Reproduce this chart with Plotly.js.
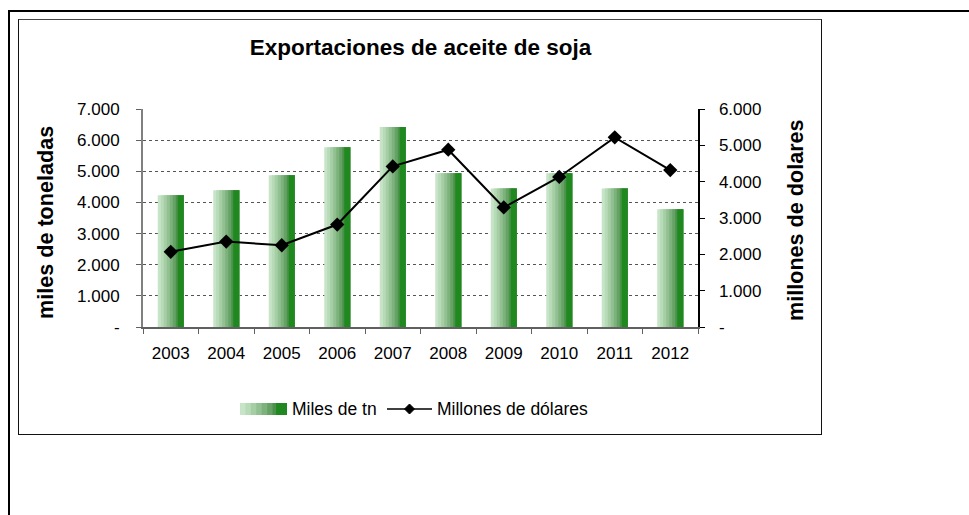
<!DOCTYPE html>
<html>
<head>
<meta charset="utf-8">
<script src="https://cdn.plot.ly/plotly-3.0.1.min.js"></script>
<style>
  html, body { margin:0; padding:0; background:#fff; width:969px; height:515px; overflow:hidden; }
  #outer { position:absolute; left:8px; top:10px; width:1000px; height:600px; border-left:2px solid #000; border-top:2px solid #000; }
  #inner { position:absolute; left:18px; top:19px; width:802px; height:414px; border:1px solid #111; border-top-color:#444; }
  #chart { position:absolute; left:0; top:0; width:969px; height:515px; }
</style>
</head>
<body>
<div id="outer"></div>
<div id="inner"></div>
<div id="chart"></div>
<script>
// ---- data ----
const years = ['2003','2004','2005','2006','2007','2008','2009','2010','2011','2012'];
const milesTn = [4230, 4390, 4870, 5770, 6420, 4940, 4450, 4940, 4450, 3780];
const millonesUSD = [2070, 2350, 2250, 2820, 4420, 4880, 3290, 4130, 5220, 4320];
const leftTickVals = [0, 1000, 2000, 3000, 4000, 5000, 6000, 7000];
const leftTickText = ['-', '1.000', '2.000', '3.000', '4.000', '5.000', '6.000', '7.000'];
const rightTickVals = [0, 1000, 2000, 3000, 4000, 5000, 6000];
const rightTickText = ['-', '1.000', '2.000', '3.000', '4.000', '5.000', '6.000'];
const seriesNames = ['Miles de tn', 'Millones de dólares'];

// ---- styling ----
const FONT = 'Liberation Sans, Arial, sans-serif';
const TICK = 17;
const gradColors = ['#c8e4c8', '#b7dab7', '#a5cea5', '#92c092', '#7db27d', '#66a266', '#4a924a', '#1f881f'];
const stripeStarts = [0, 3, 6, 9, 12, 15, 18, 20]; // px within a 26px bar
const barPx = 26, catPx = 55.5;
const barW = barPx / catPx;

const W = 969, H = 515;
const M = {l:143, r:271, t:109, b:188};
const PW = W - M.l - M.r, PH = H - M.t - M.b;
const px = x => (x - M.l) / PW;
const py = y => (M.t + PH - y) / PH;

const traces = [];
gradColors.forEach((c, k) => {
  const start = stripeStarts[k] / catPx;
  traces.push({
    type: 'bar', x: years, y: milesTn, yaxis: 'y',
    offset: -barW / 2 + start, width: barW - start,
    marker: {color: c, line: {width: 0}},
    showlegend: false, hoverinfo: 'skip', name: seriesNames[0]
  });
});
traces.push({
  type: 'scatter', mode: 'lines+markers', x: years, y: millonesUSD, yaxis: 'y2',
  name: seriesNames[1], showlegend: false, cliponaxis: false,
  line: {color: '#000', width: 2},
  marker: {symbol: 'diamond', size: 11, color: '#000'}
});

// legend shapes
const shapes = [];
const swL = 240, swR = 287, swT = 403, swB = 415;
const swScale = (swR - swL) / barPx;
gradColors.forEach((c, k) => {
  shapes.push({type:'rect', xref:'paper', yref:'paper',
    x0: px(swL + stripeStarts[k] * swScale), x1: px(swR), y0: py(swB), y1: py(swT),
    fillcolor: c, line: {width: 0}});
});
shapes.push({type:'line', xref:'paper', yref:'paper', x0: px(387), x1: px(432), y0: py(409), y1: py(409),
  line: {color:'#000', width: 1.5}});
const dc = 409.5, dy = 409, ds = 5;
shapes.push({type:'path', xref:'paper', yref:'paper',
  path: `M ${px(dc-ds)},${py(dy)} L ${px(dc)},${py(dy-ds)} L ${px(dc+ds)},${py(dy)} L ${px(dc)},${py(dy+ds)} Z`,
  fillcolor:'#000', line:{color:'#000', width:1}});

const annotations = [
  {text: '<b>miles de toneladas</b>', xref:'paper', yref:'paper', x: px(45), y: py(223), textangle: -90,
   showarrow:false, xanchor:'center', yanchor:'middle', font:{family:FONT, size:21.6, color:'#000'}},
  {text: '<b>millones de dolares</b>', xref:'paper', yref:'paper', x: px(795), y: py(220), textangle: -90,
   showarrow:false, xanchor:'center', yanchor:'middle', font:{family:FONT, size:21.6, color:'#000'}},
  {text: seriesNames[0], xref:'paper', yref:'paper', x: px(290), y: py(409), showarrow:false,
   xanchor:'left', yanchor:'middle', font:{family:FONT, size:17.5, color:'#000'}},
  {text: seriesNames[1], xref:'paper', yref:'paper', x: px(435), y: py(409), showarrow:false,
   xanchor:'left', yanchor:'middle', font:{family:FONT, size:17.5, color:'#000'}}
];

const layout = {
  width: W, height: H, margin: M,
  paper_bgcolor: 'rgba(0,0,0,0)', plot_bgcolor: 'rgba(0,0,0,0)',
  barmode: 'overlay', showlegend: false,
  font: {family: FONT, size: TICK, color: '#000'},
  title: {text: '<b>Exportaciones de aceite de soja</b>', x: 0.5, xref: 'paper', xanchor: 'center',
    y: 1 - 47 / H, yref: 'container', yanchor: 'middle', font: {family: FONT, size: 22.5, color: '#000'}},
  xaxis: {type: 'category', range: [-0.5, years.length - 0.5], showline: true, linecolor: '#606060', linewidth: 1.5,
    ticks: 'outside', tickson: 'boundaries', ticklen: 5, tickcolor: '#606060', ticklabelstandoff: 10,
    showgrid: false, zeroline: false, tickfont: {family: FONT, size: TICK, color: '#000'}},
  yaxis: {range: [0, 7000], tickvals: leftTickVals, ticktext: leftTickText,
    showline: true, linecolor: '#808080', linewidth: 2, ticks: 'outside', ticklen: 5, tickcolor: '#606060',
    ticklabelstandoff: 13,
    showgrid: true, gridcolor: '#555', griddash: 'dot', gridwidth: 1, zeroline: false,
    tickfont: {family: FONT, size: TICK, color: '#000'}},
  yaxis2: {range: [0, 6000], tickvals: rightTickVals, ticktext: rightTickText, overlaying: 'y', side: 'right',
    showline: true, linecolor: '#000', linewidth: 1.5, ticks: 'outside', ticklen: 5, tickcolor: '#000',
    ticklabelstandoff: 11,
    showgrid: false, zeroline: false, tickfont: {family: FONT, size: TICK, color: '#000'}},
  shapes: shapes, annotations: annotations
};

Plotly.newPlot('chart', traces, layout, {displayModeBar: false, staticPlot: true});
</script>
</body>
</html>
